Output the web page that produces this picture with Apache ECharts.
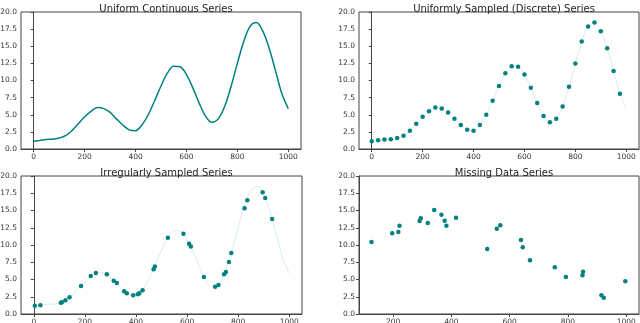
<!DOCTYPE html>
<html>
<head>
	<meta charset="UTF-8">
	<title>Series sampling</title>
	<script src="https://cdn.jsdelivr.net/npm/echarts@6/dist/echarts.min.js"></script>
	<style>
		html, body { margin: 0; padding: 0; background: #fff; }
		#chart { width: 640px; height: 323px; }
	</style>
</head>
<body>
	<div id="chart"></div>
	<script>
		// the underlying curve, read every 25 units
		var curveX = [0, 25, 50, 75, 100, 125, 150, 175, 200, 225, 250, 275, 300, 325, 350, 375, 400, 425, 450, 475,
			500, 525, 550, 575, 600, 625, 650, 675, 700, 725, 750, 775, 800, 825, 850, 875, 900, 925, 950, 975, 1000];
		var curveY = [1.12, 1.26, 1.4, 1.42, 1.6, 1.94, 2.67, 3.7, 4.7, 5.5, 6.05, 5.9, 5.34, 4.4, 3.5, 2.8, 2.67, 3.5, 5.0, 7.04,
			9.2, 11.07, 12.09, 12.0, 10.87, 8.93, 6.7, 4.8, 3.9, 4.4, 6.2, 9.1, 12.5, 15.7, 17.9, 18.45, 17.2, 14.7, 11.4, 8.06, 5.9];

		// uniformly sampled points (every 25 up to 975)
		var uniX = curveX.slice(0, 40);
		var uniY = curveY.slice(0, 40);

		// irregular samples
		var irrX = [4, 26, 106, 110, 124, 140, 185, 223, 243, 286, 313, 325, 354, 364, 389, 407, 413, 426, 469, 474,
			525, 586, 608, 615, 666, 710, 723, 745, 752, 764, 773, 825, 836, 896, 906, 933];
		var irrY = [1.21, 1.26, 1.64, 1.7, 1.98, 2.42, 4.06, 5.51, 5.94, 5.75, 4.83, 4.5, 3.29, 3.0, 2.71, 2.85, 3.0, 3.43, 6.47, 6.9,
			11.06, 11.64, 10.19, 9.8, 5.36, 3.96, 4.2, 5.75, 6.09, 7.54, 8.84, 15.31, 16.47, 17.63, 16.81, 13.77];

		// series with gaps
		var missX = [126, 197, 218, 222, 291, 295, 319, 341, 366, 377, 383, 416, 523, 556, 568, 639, 645, 670, 755, 793, 850, 852, 915, 923, 997];
		var missY = [10.43, 11.69, 11.88, 12.8, 13.48, 13.86, 13.19, 15.07, 14.4, 13.53, 12.8, 13.96, 9.42, 12.37, 12.85, 10.72, 9.66, 7.78, 6.76, 5.36, 5.6, 6.13, 2.7, 2.37, 4.73];

		var titles = ["Uniform Continuous Series", "Uniformly Sampled (Discrete) Series", "Irregularly Sampled Series", "Missing Data Series"];
		var xTicks = [0, 200, 400, 600, 800, 1000];
		var xTicksMiss = [200, 400, 600, 800, 1000];

		function pairs(xs, ys) {
			return xs.map(function (x, i) { return [x, ys[i]]; });
		}

		var teal = "#008080";
		var spine = "#444";
		var font = "DejaVu Sans";

		var grids = [
			{ left: 21, top: 12, width: 280, height: 137 },
			{ left: 359, top: 12, width: 280, height: 137 },
			{ left: 21, top: 176, width: 281, height: 138 },
			{ left: 359, top: 176, width: 280, height: 138 }
		];

		function xAxis(i, min, max, ticks) {
			return {
				type: "value", gridIndex: i, min: min, max: max,
				splitLine: { show: false },
				axisLine: { onZero: false, lineStyle: { color: spine, width: 1 } },
				axisTick: { customValues: ticks, length: 3, lineStyle: { color: spine } },
				axisLabel: { customValues: ticks, fontSize: 7.5, fontFamily: font, color: "#333", margin: 4,
					formatter: function (v) { return String(v); } }
			};
		}
		function yAxis(i) {
			return {
				type: "value", gridIndex: i, min: 0, max: 20, interval: 2.5,
				splitLine: { show: false },
				axisLine: { show: true, lineStyle: { color: spine, width: 1 } },
				axisTick: { show: true, length: 3, lineStyle: { color: spine } },
				axisLabel: { fontSize: 7.5, fontFamily: font, color: "#333", margin: 4,
					formatter: function (v) { return v.toFixed(1); } }
			};
		}

		var faint = {
			type: "line", smooth: 0.35, showSymbol: false, silent: true,
			lineStyle: { color: teal, opacity: 0.15, width: 1 }, z: 1
		};
		function dots(i, data) {
			return { type: "scatter", xAxisIndex: i, yAxisIndex: i, data: data,
				symbolSize: 4.5, itemStyle: { color: teal, opacity: 1 }, z: 3 };
		}

		var chart = echarts.init(document.getElementById("chart"), null, { renderer: "canvas" });
		chart.setOption({
			animation: false,
			title: titles.map(function (t, i) {
				var g = grids[i];
				return { text: t, left: g.left + g.width / 2, top: g.top - 13, textAlign: "center",
					textStyle: { fontSize: 10, fontWeight: "normal", fontFamily: font, color: "#222" } };
			}),
			grid: grids.map(function (g) {
				return Object.assign({ show: true, borderColor: spine, borderWidth: 1, containLabel: false, outerBoundsMode: "none" }, g);
			}),
			xAxis: [xAxis(0, -50, 1050, xTicks), xAxis(1, -50, 1050, xTicks), xAxis(2, -50, 1050, xTicks), xAxis(3, 83, 1044, xTicksMiss)],
			yAxis: [yAxis(0), yAxis(1), yAxis(2), yAxis(3)],
			series: [
				{ type: "line", xAxisIndex: 0, yAxisIndex: 0, data: pairs(curveX, curveY), smooth: 0.35, showSymbol: false,
					lineStyle: { color: teal, width: 1.5 } },
				Object.assign({ xAxisIndex: 1, yAxisIndex: 1, data: pairs(curveX, curveY) }, faint),
				dots(1, pairs(uniX, uniY)),
				Object.assign({ xAxisIndex: 2, yAxisIndex: 2, data: pairs(curveX, curveY) }, faint),
				dots(2, pairs(irrX, irrY)),
				dots(3, pairs(missX, missY))
			]
		});
	</script>
</body>
</html>
